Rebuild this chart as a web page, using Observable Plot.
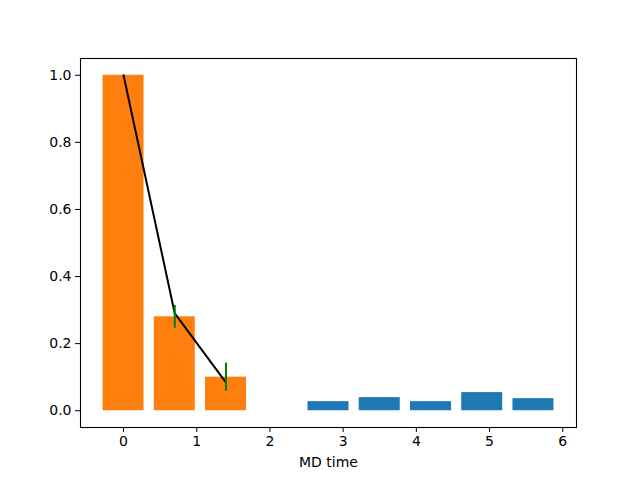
<!DOCTYPE html>
<html>
<head>
<meta charset="utf-8">
<script src="https://cdn.jsdelivr.net/npm/d3@7"></script>
<script src="https://cdn.jsdelivr.net/npm/@observablehq/plot@0.6"></script>
<style>
body { margin: 0; background: #fff; }
svg { font-family: "DejaVu Sans", sans-serif; }
</style>
</head>
<body>
<div id="chart"></div>
<script>
// Data
const orangeX = [0, 0.7, 1.4];
const orangeV = [1.0, 0.28, 0.10];
const orangeErr = [0, 0.034, 0.042];
const lineV = [1.0, 0.29, 0.084];
const blueX = [2.8, 3.5, 4.2, 4.9, 5.6];
const blueV = [0.027, 0.039, 0.027, 0.054, 0.036];
const xTicks = [0, 1, 2, 3, 4, 5, 6];
const yTicks = [0, 0.2, 0.4, 0.6, 0.8, 1.0];
const barWidth = 0.56;

const orange = orangeX.map((x, i) => ({x, v: orangeV[i], e: orangeErr[i], l: lineV[i]}));
const blue = blueX.map((x, i) => ({x, v: blueV[i]}));
const errs = orange.filter(d => d.e > 0);

const chart = Plot.plot({
  width: 640,
  height: 480,
  marginLeft: 80,
  marginRight: 64,
  marginTop: 58,
  marginBottom: 53,
  style: {fontFamily: "DejaVu Sans, sans-serif", fontSize: "14px", color: "#000", background: "#fff"},
  x: {domain: [-0.588, 6.188], ticks: xTicks, tickFormat: d3.format("d"), tickSize: 5, tickPadding: 4, label: "MD time", labelAnchor: "center", labelArrow: "none", labelOffset: 39},
  y: {domain: [-0.05, 1.05], ticks: yTicks, tickFormat: d3.format(".1f"), tickSize: 5, tickPadding: 4, label: null},
  marks: [
    Plot.rectY(blue, {x1: d => d.x - barWidth / 2, x2: d => d.x + barWidth / 2, y1: 0, y2: "v", fill: "#1f77b4"}),
    Plot.rectY(orange, {x1: d => d.x - barWidth / 2, x2: d => d.x + barWidth / 2, y1: 0, y2: "v", fill: "#ff7f0e"}),
    Plot.line(orange, {x: "x", y: "l", stroke: "#000", strokeWidth: 2}),
    Plot.ruleX(errs, {x: "x", y1: d => d.v - d.e, y2: d => d.v + d.e, stroke: "green", strokeWidth: 2}),
    Plot.frame({stroke: "#000", strokeWidth: 1.1})
  ]
});
document.getElementById("chart").appendChild(chart);
</script>
</body>
</html>
